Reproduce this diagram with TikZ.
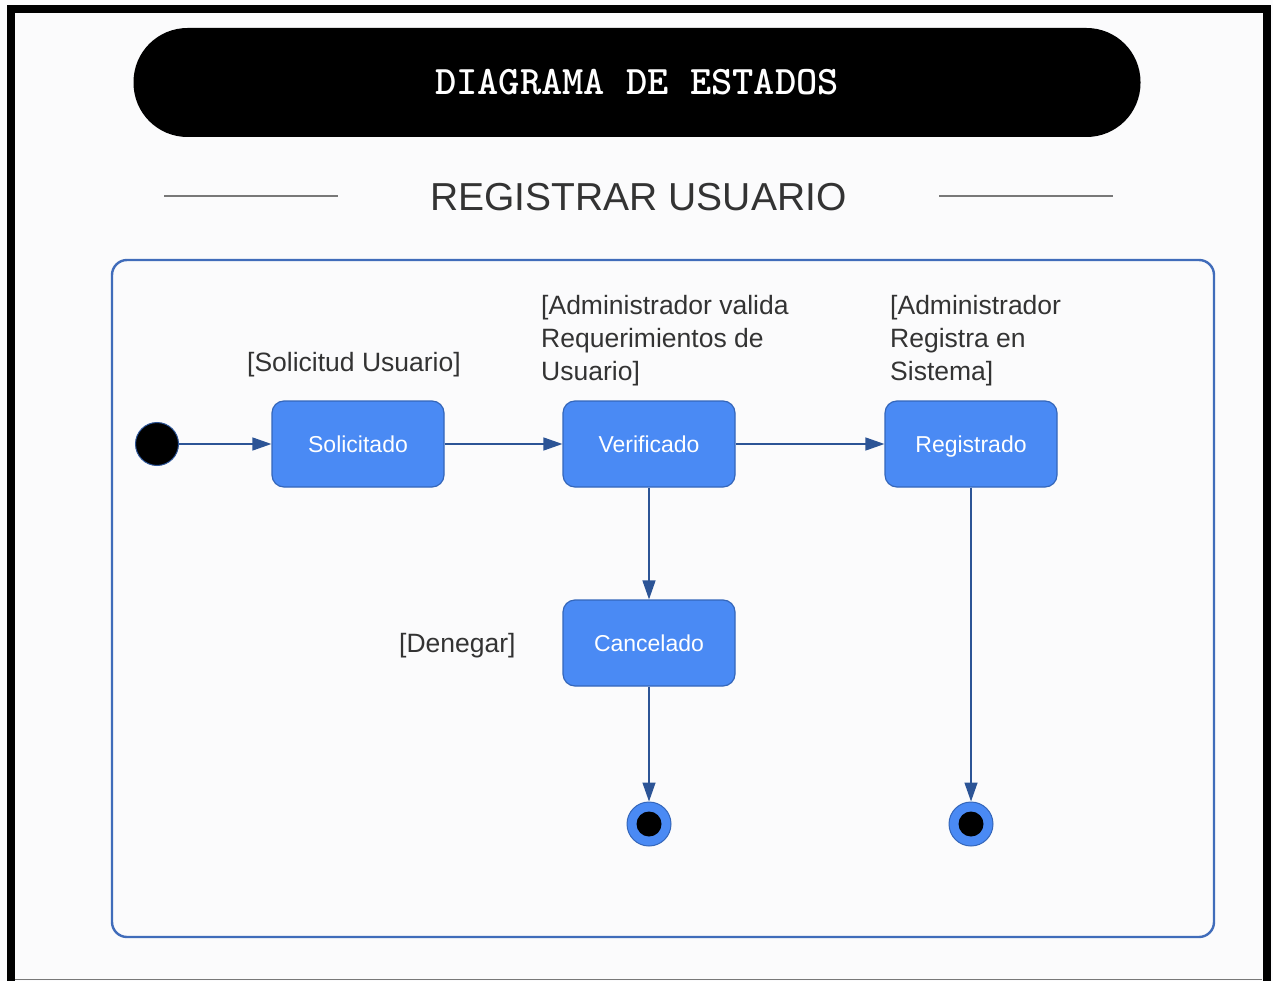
\documentclass[tikz,border=0pt]{standalone}
\usepackage{fontspec}
\setmainfont{Liberation Sans}
\usetikzlibrary{arrows.meta}
\definecolor{bgc}{RGB}{251,251,252}
\definecolor{framec}{RGB}{64,108,186}
\definecolor{nodefill}{RGB}{74,138,244}
\definecolor{nodeborder}{RGB}{52,102,186}
\definecolor{arrowc}{RGB}{44,84,150}
\definecolor{txtc}{RGB}{51,51,51}
\definecolor{rulec}{RGB}{120,120,120}
\tikzset{
  statebox/.style={draw=nodeborder, line width=1.2pt, fill=nodefill, rounded corners=12pt,
    minimum width=172pt, minimum height=86pt, inner sep=0pt, text=white,
    text height=16.5pt, text depth=0pt,
    font=\fontsize{23}{27}\selectfont},
  guard/.style={text=txtc, font=\fontsize{26.5}{33}\selectfont, inner sep=0pt},
  trans/.style={draw=arrowc, line width=1.4pt, -{Triangle[length=19pt,width=13pt]}},
}
\begin{document}
\begin{tikzpicture}[x=1pt,y=-1pt]
\useasboundingbox (0,0) rectangle (1273,981);
\fill[bgc] (0,0) rectangle (1273,981);
% outer border
\draw[black, line width=8pt] (11,981) -- (11,9) -- (1266.5,9) -- (1266.5,981);
\draw[rulec, line width=1.5pt] (15,979.5) -- (1262,979.5);
% title pill
\node[fill=black, rounded corners=54pt, minimum width=1007pt, minimum height=109pt, inner sep=0pt,
  text=white, font=\ttfamily\bfseries\fontsize{40.5}{44}\selectfont] (title) at (637,82.5) {DIAGRAMA DE ESTADOS};
% subtitle
\node[text=txtc, font=\fontsize{39}{44}\selectfont, inner sep=0pt] (sub) at (638.5,197) {REGISTRAR USUARIO};
\coordinate (l1) at (164,196); \coordinate (l2) at (338,196);
\coordinate (r1) at (939,196); \coordinate (r2) at (1113,196);
\draw[rulec, line width=2pt] (l1) -- (l2);
\draw[rulec, line width=2pt] (r1) -- (r2);
% frame
\draw[framec, line width=2.4pt, rounded corners=15pt] (112,260) rectangle (1214,937);
% states
\node[circle, fill=black, draw=arrowc, line width=1pt, minimum size=43pt, inner sep=0pt] (init) at (157,444) {};
\node[statebox] (sol) at (358,444) {Solicitado};
\node[statebox] (ver) at (649,444) {Verificado};
\node[statebox] (reg) at (971,444) {Registrado};
\node[statebox] (can) at (649,643) {Cancelado};
\node[circle, fill=nodefill, draw=nodeborder, line width=1pt, minimum size=44pt, inner sep=0pt] (f1) at (649,824) {};
\node[circle, fill=black, minimum size=25pt, inner sep=0pt] at (f1) {};
\node[circle, fill=nodefill, draw=nodeborder, line width=1pt, minimum size=44pt, inner sep=0pt] (f2) at (971,824) {};
\node[circle, fill=black, minimum size=25pt, inner sep=0pt] at (f2) {};
% transitions
\draw[trans] (init) -- (sol);
\draw[trans] (sol) -- (ver);
\draw[trans] (ver) -- (reg);
\draw[trans] (ver) -- (can);
\draw[trans] (can) -- (f1);
\draw[trans] (reg) -- (f2);
% guards
\node[guard, anchor=west] (g1) at (247,365) {[Solicitud Usuario]};
\node[guard, anchor=north west, align=left] (g2) at (541,295) {[Administrador valida\\Requerimientos de\\Usuario]};
\node[guard, anchor=north west, align=left] (g3) at (890,295) {[Administrador\\Registra en\\Sistema]};
\node[guard, anchor=west] (g4) at (399,646) {[Denegar]};
\end{tikzpicture}
\end{document}
